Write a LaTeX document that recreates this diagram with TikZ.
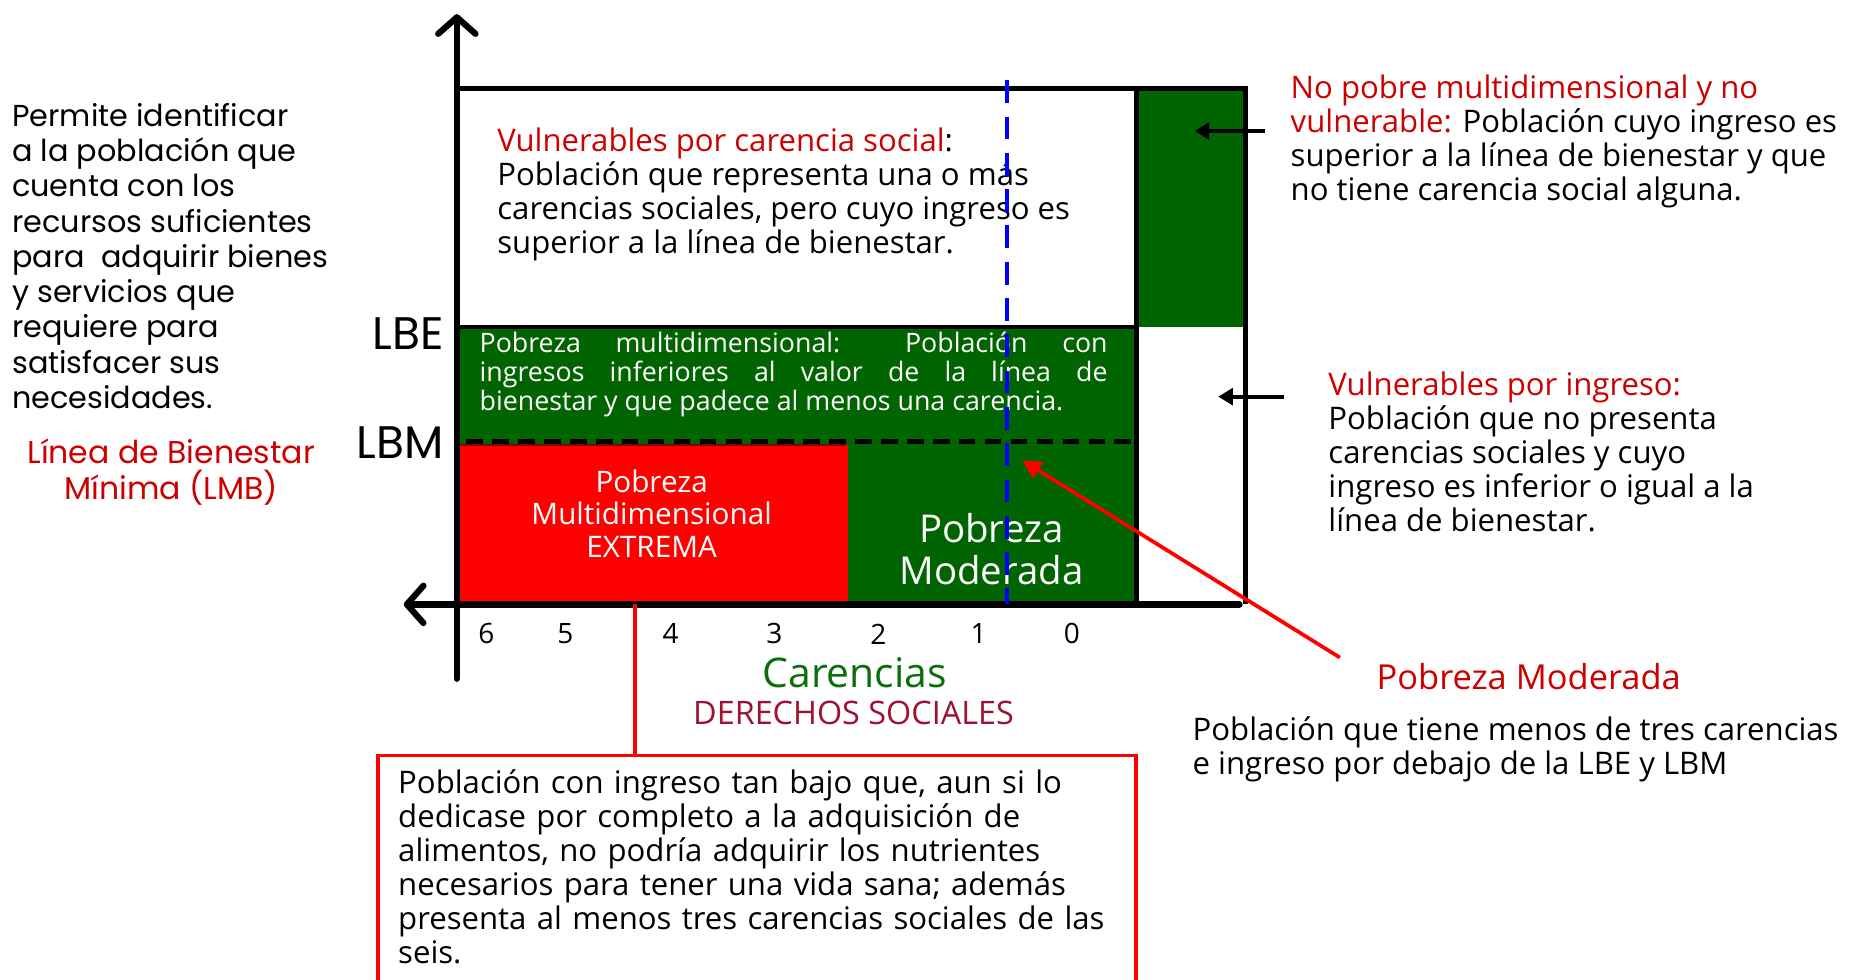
\documentclass[tikz,border=0pt]{standalone}
\usepackage{fontspec}
\setmainfont{Open Sans}
\newfontfamily\widefont{Poppins}
\usetikzlibrary{arrows.meta,positioning}
\definecolor{darkgreen}{RGB}{0,100,0}
\definecolor{textred}{RGB}{204,0,0}
\definecolor{crimson}{RGB}{160,16,48}
\definecolor{labelgreen}{RGB}{10,110,10}

\begin{document}
\begin{tikzpicture}[
    x=0.02cm, y=-0.02cm,
    axis/.style={line width=3pt, black, line cap=round},
    frame/.style={line width=2.3pt, black},
    callout/.style={line width=1.8pt, red},
    pointer/.style={line width=1.8pt, black, -{Triangle[length=7pt,width=8pt]}},
    body/.style={font=\fontsize{15}{16.4}\selectfont, align=left, anchor=north west, inner sep=0pt},
    wide/.style={font=\widefont\fontsize{14.6}{17}\selectfont, inner sep=0pt},
    tick/.style={font=\fontsize{13.5}{16}\selectfont, inner sep=0pt}
    ]

\useasboundingbox (0,0) rectangle (1568,830);

% regions
\fill[darkgreen] (390,277) rectangle (963,512);
\fill[darkgreen] (963,75) rectangle (1055,277);
\fill[red] (390,377) rectangle (718,512);
\draw[red!55!black, line width=1.2pt] (390,377) -- (716,377);

% lines
\draw[frame] (387,75) -- (1055,75) -- (1055,512);
\draw[frame] (963,75) -- (963,512);
\draw[frame] (390,277) -- (963,277);
\draw[line width=2pt, dash pattern=on 8pt off 4.5pt] (395,374) -- (960,374);

% axes
\draw[axis, -{Straight Barb[length=8pt,width=18pt,round]}] (387,575) -- (387,12);
\draw[axis, -{Straight Barb[length=8pt,width=18pt,round]}] (1050,512) -- (342,512);

% axis labels
\node[wide, font=\widefont\fontsize{22}{24}\selectfont, anchor=east] (lbe) at (376,283) {LBE};
\node[wide, font=\widefont\fontsize{22}{24}\selectfont, anchor=east] (lbm) at (376,375) {LBM};
\foreach \n/\px in {6/412, 5/479, 4/568, 3/656, 2/744, 1/829, 0/908}
    \node[tick] (tick\n) at (\px,537) {\n};
\node[font=\fontsize{19.7}{21}\selectfont, text=labelgreen] (carencias) at (724,570) {Carencias};
\node[font=\fontsize{15.6}{17}\selectfont, text=crimson] (derechos) at (723,604) {DERECHOS SOCIALES};

% left side
\node[wide, align=left, anchor=north west] (permite) at (10,87)
    {Permite identificar\\a la población que\\cuenta con los\\recursos suficientes\\para~ adquirir bienes\\y servicios que\\requiere para\\satisfacer sus\\necesidades.};
\node[wide, font=\widefont\fontsize{15.2}{17.5}\selectfont, align=center, text=textred] (lmb) at (145,400)
    {Línea de Bienestar\\Mínima (LMB)};

% texts inside the chart
\node[body] (vulcar) at (421,108)
    {\textcolor{textred}{Vulnerables por carencia social}:\\Población que representa una o más\\carencias sociales, pero cuyo ingreso es\\superior a la línea de bienestar.};
\node[body, font=\fontsize{12.9}{14}\selectfont, text=white, align=justify, text width=10.64cm] (pobmulti) at (406,281)
    {Pobreza multidimensional: Población con\linebreak ingresos inferiores al valor de la línea de\linebreak bienestar y que padece al menos una carencia.};
\node[font=\fontsize{14.3}{15.6}\selectfont, text=white, align=center] (extrema) at (552,435)
    {Pobreza\\Multidimensional\\EXTREMA};
\node[font=\fontsize{18.5}{20.5}\selectfont, text=white, align=center] (moderada) at (840,465)
    {Pobreza\\Moderada};

% blue marker over the texts
\draw[blue, line width=1.7pt, dash pattern=on 11pt off 6.5pt] (853,68) -- (853,512);

% right side
\node[body] (nopobre) at (1093,63)
    {\textcolor{textred}{No pobre multidimensional y no}\\\textcolor{textred}{vulnerable:} Población cuyo ingreso es\\superior a la línea de bienestar y que\\no tiene carencia social alguna.};
\node[body] (vulingreso) at (1125,315)
    {\textcolor{textred}{Vulnerables por ingreso:}\\Población que no presenta\\carencias sociales y cuyo\\ingreso es inferior o igual a la\\línea de bienestar.};
\node[font=\fontsize{16.6}{18}\selectfont, text=textred] (modlabel) at (1295,573) {Pobreza Moderada};
\node[body] (moddef) at (1010,607)
    {Población que tiene menos de tres carencias\\e ingreso por debajo de la LBE y LBM};

\coordinate (nopobretail) at (1072,111);
\coordinate (nopobretip) at (1012,111);
\coordinate (vultail) at (1088,336);
\coordinate (vultip) at (1032,336);
\draw[pointer] (nopobretail) -- (nopobretip);
\draw[pointer] (vultail) -- (vultip);

\coordinate (modtail) at (1135,557);
\coordinate (modtip) at (866,390);
\draw[callout, -{Triangle[length=9pt,width=9pt]}] (modtail) -- (modtip);

% extreme poverty box
\coordinate (extremafoot) at (538,512);
\node[body, text width=12.2cm] (extdef) at (337,652)
    {Población con ingreso tan bajo que, aun si lo\\dedicase por completo a la adquisición de\\alimentos, no podría adquirir los nutrientes\\necesarios para tener una vida sana; además\\presenta al menos tres carencias sociales de las\\seis.};
\draw[callout] (extremafoot) -- (538,640);
\draw[callout] (320,840) -- (320,640) -- (962,640) -- (962,840);

\end{tikzpicture}
\end{document}
